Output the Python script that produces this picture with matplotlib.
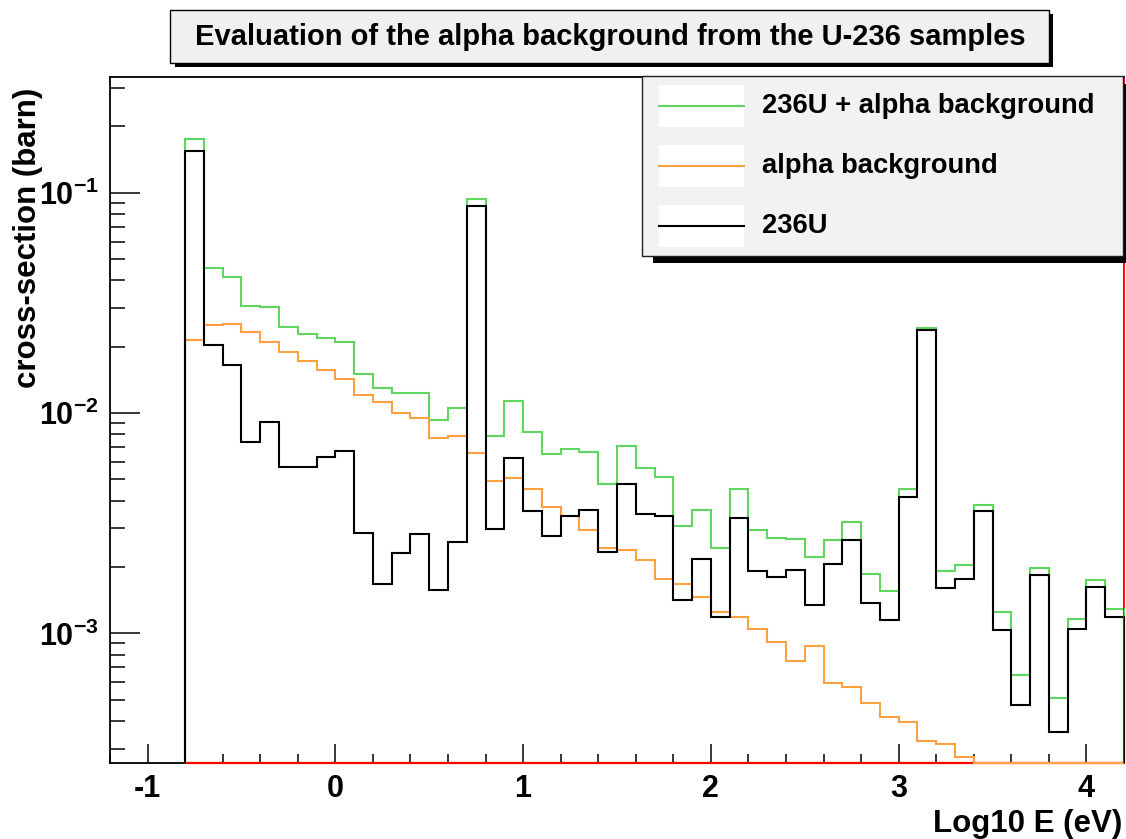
import numpy as np
import matplotlib
matplotlib.use("Agg")
import matplotlib.pyplot as plt
from matplotlib.patches import Rectangle
from matplotlib.lines import Line2D
from matplotlib.ticker import MultipleLocator, FixedLocator, NullFormatter, FuncFormatter, LogLocator

plt.rcParams['font.family'] = ['Liberation Sans', 'DejaVu Sans']
plt.rcParams['font.weight'] = 'bold'
plt.rcParams['mathtext.fontset'] = 'custom'
plt.rcParams['mathtext.rm'] = 'Liberation Sans:bold'
plt.rcParams['mathtext.bf'] = 'Liberation Sans:bold'
plt.rcParams['mathtext.it'] = 'Liberation Sans:bold'

# ---------------- data ----------------
title = "Evaluation of the alpha background from the U-236 samples"
xlabel = "Log10 E (eV)"
ylabel = "cross-section (barn)"
labels = ["236U + alpha background", "alpha background", "236U"]

bin_lo, bin_hi, n_bins = -0.8, 4.2, 50

total = [0.1753, 0.04551, 0.04156, 0.03069, 0.03028, 0.02464, 0.02291, 0.02197, 0.02107, 0.01498,
         0.01295, 0.01237, 0.01237, 0.009295, 0.01054, 0.0936, 0.00786, 0.01137, 0.00817, 0.00649,
         0.00684, 0.00663, 0.004747, 0.00710, 0.005645, 0.005138, 0.003079, 0.003639, 0.002439, 0.004533,
         0.002935, 0.002716, 0.002688, 0.002227, 0.002657, 0.003218, 0.001853, 0.001561, 0.004519, 0.02430,
         0.001924, 0.002035, 0.003811, 0.001245, 0.000647, 0.001978, 0.000508, 0.001161, 0.001740, 0.001289]

alpha_bkg = [0.02151, 0.02516, 0.02535, 0.02332, 0.02107, 0.01891, 0.01722, 0.01562, 0.01427, 0.01207,
             0.01125, 0.01003, 0.009490, 0.007698, 0.007888, 0.006604, 0.004903, 0.005084, 0.004533, 0.003744,
             0.003418, 0.002944, 0.002430, 0.002395, 0.002158, 0.001770, 0.001669, 0.001466, 0.001253, 0.001182,
             0.001043, 0.000910, 0.000751, 0.000877, 0.000594, 0.000572, 0.000484, 0.000418, 0.000394, 0.000325,
             0.000314, 0.000275, 0.0, 0.0, 0.0, 0.0, 0.0, 0.0, 0.0, 0.0]

u236 = [0.1546, 0.02029, 0.01646, 0.007409, 0.009131, 0.005686, 0.005686, 0.006332, 0.006699, 0.002852,
        0.001674, 0.002322, 0.002814, 0.001568, 0.002597, 0.0870, 0.002990, 0.006266, 0.003579, 0.002773,
        0.003397, 0.003639, 0.002331, 0.004747, 0.003490, 0.003397, 0.001412, 0.002167, 0.001186, 0.003327,
        0.001918, 0.001806, 0.001949, 0.001348, 0.002069, 0.002643, 0.001377, 0.001149, 0.004143, 0.02388,
        0.001611, 0.001758, 0.003579, 0.001035, 0.000471, 0.001833, 0.000355, 0.001043, 0.001627, 0.001189]

empty_hist = [0.0] * 50

x_range = (-1.2, 4.2)
y_range = (2.58e-4, 0.335)

col_total = "#5fd65f"
col_alpha = "#ffa040"
col_u = "#000000"

# ---------------- figure ----------------
W, H = 1126, 839
fig = plt.figure(figsize=(W / 100, H / 100), dpi=100)
fig.patch.set_facecolor("white")

def fx(px):
    return px / W

def fy(py):
    return 1 - py / H

ax = fig.add_axes([fx(110), fy(763), (1124 - 110) / W, (763 - 77) / H])
ax.set_yscale("log")
ax.set_xlim(*x_range)
ax.set_ylim(*y_range)

edges = np.linspace(bin_lo, bin_hi, n_bins + 1)
ylo = y_range[0]

def clip(v):
    return np.maximum(np.asarray(v, dtype=float), ylo)

ax.stairs(clip(empty_hist), edges, baseline=None, color="red", lw=1.6, zorder=3, clip_on=False)
ax.stairs(clip(total), edges, baseline=ylo, color=col_total, lw=1.5, zorder=4, clip_on=False)
ax.stairs(clip(alpha_bkg), edges, baseline=ylo, color=col_alpha, lw=1.5, zorder=5, clip_on=False)
ax.stairs(clip(u236), edges, baseline=ylo, color=col_u, lw=1.5, zorder=6, clip_on=False)
ax.axvline(x_range[1], color="red", lw=2.0, zorder=7)

# ticks
ax.xaxis.set_major_locator(FixedLocator([-1, 0, 1, 2, 3, 4]))
ax.xaxis.set_minor_locator(MultipleLocator(0.2))
ax.xaxis.set_major_formatter(FuncFormatter(lambda v, p: "%d" % round(v)))
ax.yaxis.set_major_locator(LogLocator(base=10, numticks=10))
ax.yaxis.set_minor_locator(LogLocator(base=10, subs=np.arange(2, 10), numticks=20))
ax.yaxis.set_minor_formatter(NullFormatter())
ax.yaxis.set_major_formatter(FuncFormatter(lambda v, p: r"$10^{%d}$" % round(np.log10(v))))

ax.tick_params(axis="both", which="both", direction="in", top=False, right=False, width=1.1, color="black")
ax.tick_params(axis="x", which="major", length=13.7, pad=8, labelsize=22)
ax.tick_params(axis="x", which="minor", length=6.5)
ax.tick_params(axis="y", which="major", length=21.6, pad=8, labelsize=22)
ax.tick_params(axis="y", which="minor", length=10.8)

for s in ax.spines.values():
    s.set_linewidth(1.3)
    s.set_color("black")
ax.spines["right"].set_color("red")

# axis titles
fig.text(fx(28), fy(88), ylabel, rotation=90, ha="center", va="top", fontsize=22.5, fontweight="bold")
fig.text(fx(1122), fy(832), xlabel, ha="right", va="baseline", fontsize=22.5, fontweight="bold")

# title box
fig.add_artist(Rectangle((fx(175), fy(67)), (1053 - 175) / W, (67 - 14) / H, transform=fig.transFigure,
                         facecolor="black", edgecolor="none", zorder=10))
fig.add_artist(Rectangle((fx(170), fy(63)), (1049 - 170) / W, (63 - 10) / H, transform=fig.transFigure,
                         facecolor="#f0f0f0", edgecolor="black", lw=1.0, zorder=11))
fig.text(fx(610), fy(37), title, ha="center", va="center", fontsize=21, fontweight="bold", zorder=12)

# legend box
fig.add_artist(Rectangle((fx(653), fy(263)), (1134 - 653) / W, (263 - 84) / H, transform=fig.transFigure,
                         facecolor="black", edgecolor="none", zorder=10))
fig.add_artist(Rectangle((fx(642), fy(256)), (1123 - 642) / W, (256 - 76) / H, transform=fig.transFigure,
                         facecolor="#f2f2f2", edgecolor="#202020", lw=1.0, zorder=11))
row_y = [105.7, 166, 226]
for lab, col, ry in zip(labels, [col_total, col_alpha, col_u], row_y):
    fig.add_artist(Rectangle((fx(659), fy(ry + 21)), (744 - 659) / W, 42 / H, transform=fig.transFigure,
                             facecolor="white", edgecolor="none", zorder=12))
    fig.add_artist(Line2D([fx(659), fx(744)], [fy(ry), fy(ry)], transform=fig.transFigure,
                          color=col, lw=1.5, zorder=13))
    fig.text(fx(762), fy(ry + 7), lab, ha="left", va="baseline", fontsize=19.7, fontweight="bold", zorder=13)

fig.savefig("out.png", dpi=100)
